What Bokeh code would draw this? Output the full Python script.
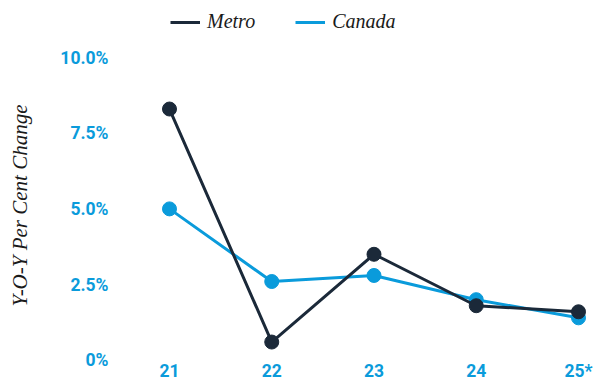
from bokeh.plotting import figure
from bokeh.layouts import column
from bokeh.models import Range1d, FixedTicker, Legend, LegendItem
from bokeh.embed import file_html
from bokeh.resources import INLINE

years = [21, 22, 23, 24, 25]
year_labels = ["21", "22", "23", "24", "25*"]
metro = [8.3, 0.6, 3.5, 1.8, 1.6]
canada = [5.0, 2.6, 2.8, 2.0, 1.4]
y_ticks = [0, 2.5, 5.0, 7.5, 10.0]
y_tick_labels = ["0%", "2.5%", "5.0%", "7.5%", "10.0%"]

DARK = "#1b2939"
BLUE = "#0a9bdb"

# ---- legend strip (top) ----
top = figure(width=594, height=40, output_backend="svg", toolbar_location=None,
             x_axis_type=None, y_axis_type=None,
             x_range=Range1d(0, 1), y_range=Range1d(100, 101),
             min_border_left=0, min_border_right=0, min_border_top=0, min_border_bottom=0)
top.outline_line_color = None
top.grid.visible = False
t_met = top.line(years, metro, line_color=DARK, line_width=3)
t_can = top.line(years, canada, line_color=BLUE, line_width=3)
legend = Legend(items=[LegendItem(label="Metro", renderers=[t_met]),
                       LegendItem(label="Canada", renderers=[t_can])],
                orientation="horizontal", location=(50, 7),
                label_text_font="Liberation Serif", label_text_font_style="italic",
                label_text_font_size="20px", label_text_color="#1a1a1a",
                glyph_width=30, glyph_height=20, label_height=20,
                spacing=40, label_standoff=7,
                background_fill_alpha=0, border_line_color=None, padding=0, margin=0)
top.add_layout(legend, "center")

# ---- main chart ----
p = figure(width=594, height=343, output_backend="svg", toolbar_location=None,
           x_range=Range1d(20.5208, 25.1565), y_range=Range1d(-0.01, 10.234),
           min_border_left=120, min_border_right=0, min_border_top=10, min_border_bottom=10)
p.outline_line_color = None
p.grid.visible = False

p.line(years, canada, line_color=BLUE, line_width=3)
p.scatter(years, canada, size=14, fill_color=BLUE, line_color=BLUE)
p.line(years, metro, line_color=DARK, line_width=3)
p.scatter(years, metro, size=14, fill_color=DARK, line_color=DARK)

for ax in (p.xaxis[0], p.yaxis[0]):
    ax.axis_line_color = None
    ax.major_tick_line_color = None
    ax.minor_tick_line_color = None
    ax.major_tick_out = 0
    ax.major_tick_in = 0
    ax.minor_tick_out = 0
    ax.minor_tick_in = 0
    ax.major_label_text_color = BLUE
    ax.major_label_text_font = "Roboto"
    ax.major_label_text_font_style = "bold"
    ax.major_label_text_font_size = "17.5px"

p.xaxis.ticker = FixedTicker(ticks=years)
p.xaxis.major_label_overrides = {y: l for y, l in zip(years, year_labels)}
p.xaxis.major_label_standoff = 0

p.yaxis.ticker = FixedTicker(ticks=y_ticks)
p.yaxis.major_label_overrides = {t: l for t, l in zip(y_ticks, y_tick_labels)}
p.yaxis.major_label_standoff = 12
p.yaxis.axis_label = "Y-O-Y Per Cent Change"
p.yaxis.axis_label_text_font = "Liberation Serif"
p.yaxis.axis_label_text_font_style = "italic"
p.yaxis.axis_label_text_font_size = "21px"
p.yaxis.axis_label_text_color = "#1a1a1a"
p.yaxis.axis_label_standoff = 25

layout = column(top, p, spacing=0)
open("out.html", "w").write(file_html(layout, INLINE))
